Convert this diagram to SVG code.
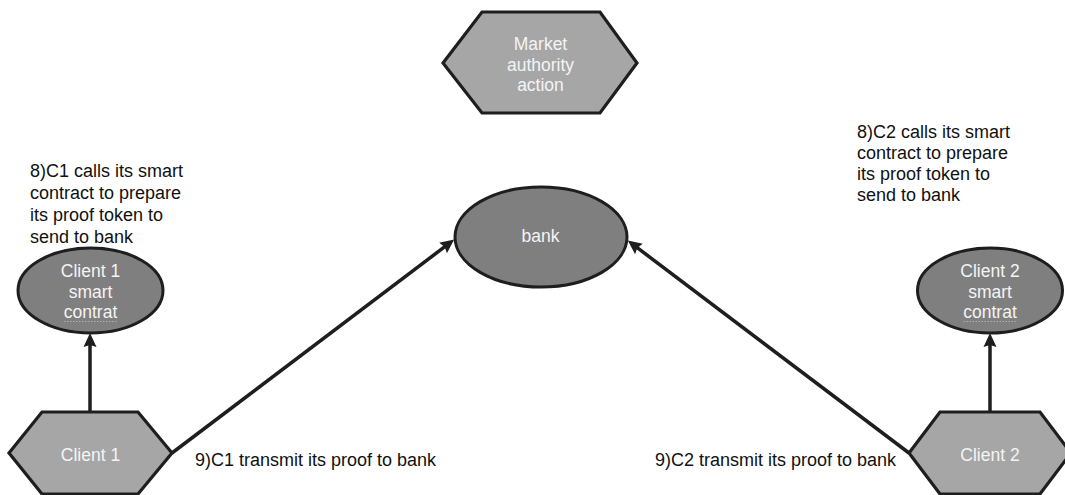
<svg xmlns="http://www.w3.org/2000/svg" width="1065" height="495" viewBox="0 0 1065 495">
  <style>
    .hex { fill: #a6a6a6; stroke: #1e1e1e; stroke-width: 3.2; stroke-linejoin: miter; }
    .ell { fill: #7f7f7f; stroke: #1e1e1e; stroke-width: 3; }
    .nt { font-family: "Liberation Sans", Arial, sans-serif; font-size: 17.5px; fill: #f4f4f4; text-anchor: middle; }
    .ann { font-family: "Liberation Sans", Arial, sans-serif; font-size: 18px; fill: #111; }
    .conn { stroke: #1e1e1e; stroke-width: 3.5; fill: none; marker-end: url(#arr); }
    .squig { stroke: #b0b0b0; stroke-width: 1; stroke-dasharray: 1.5 1.5; }
  </style>
  <defs>
    <marker id="arr" markerUnits="userSpaceOnUse" markerWidth="14" markerHeight="14" viewBox="0 0 14 14" refX="8" refY="7" orient="auto">
      <path d="M0,0.5 L14,7 L0,13.5 L2,7 z" fill="#1e1e1e"/>
    </marker>
  </defs>
  <rect width="1065" height="495" fill="#ffffff"/>

  <g id="connectors">
    <line class="conn" x1="90" y1="411" x2="90" y2="339"/>
    <line class="conn" x1="990" y1="411" x2="990" y2="339"/>
    <line class="conn" x1="172" y1="453" x2="449.4" y2="243.2"/>
    <line class="conn" x1="909" y1="453" x2="632.6" y2="244.2"/>
  </g>

  <g id="market">
    <polygon class="hex" points="443,63 482,12 600,12 637,63 600,113 482,113"/>
    <text class="nt" x="540.5" y="50">Market</text>
    <text class="nt" x="540.5" y="71">authority</text>
    <text class="nt" x="540.5" y="91">action</text>
  </g>

  <g id="bank">
    <ellipse class="ell" cx="541" cy="237" rx="86" ry="50"/>
    <text class="nt" x="540.5" y="242">bank</text>
  </g>

  <g id="client1-smart">
    <ellipse class="ell" cx="90.5" cy="290.5" rx="72.5" ry="42.5"/>
    <text class="nt" x="90.5" y="277">Client 1</text>
    <text class="nt" x="90.5" y="298">smart</text>
    <text class="nt" x="90.5" y="318">contrat</text>
    <line class="squig" x1="64" y1="321.5" x2="117" y2="321.5"/>
  </g>

  <g id="client2-smart">
    <ellipse class="ell" cx="990" cy="290.5" rx="72.5" ry="42.5"/>
    <text class="nt" x="990" y="277">Client 2</text>
    <text class="nt" x="990" y="298">smart</text>
    <text class="nt" x="990" y="318">contrat</text>
    <line class="squig" x1="963.5" y1="321.5" x2="1016.5" y2="321.5"/>
  </g>

  <g id="client1">
    <polygon class="hex" points="9,453 42,412 138,412 172,453 138,494 42,494"/>
    <text class="nt" x="90.5" y="461">Client 1</text>
  </g>

  <g id="client2">
    <polygon class="hex" points="909,453 940,412 1040,412 1071,453 1040,494 940,494"/>
    <text class="nt" x="990" y="461">Client 2</text>
  </g>

  <g id="annotation-c1">
    <text class="ann" x="30" y="177">8)C1 calls its smart</text>
    <text class="ann" x="30" y="199">contract to prepare</text>
    <text class="ann" x="30" y="221">its proof token to</text>
    <text class="ann" x="30" y="243">send to bank</text>
  </g>

  <g id="annotation-c2">
    <text class="ann" x="857" y="138">8)C2 calls its smart</text>
    <text class="ann" x="857" y="159">contract to prepare</text>
    <text class="ann" x="857" y="180">its proof token to</text>
    <text class="ann" x="857" y="201">send to bank</text>
  </g>

  <g id="label-9c1">
    <text class="ann" x="195" y="466">9)C1 transmit its proof to bank</text>
  </g>
  <g id="label-9c2">
    <text class="ann" x="655" y="466">9)C2 transmit its proof to bank</text>
  </g>
</svg>
